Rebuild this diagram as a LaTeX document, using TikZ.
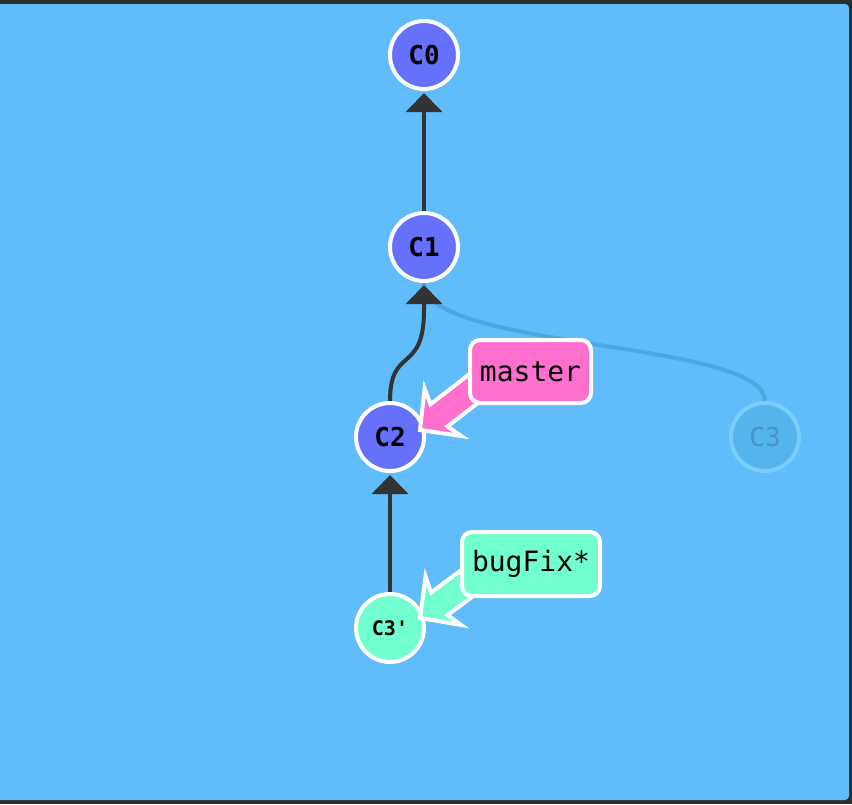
\documentclass[tikz,border=0pt]{standalone}
\usepackage{fontspec}
\setmonofont{DejaVu Sans Mono}
\usetikzlibrary{arrows.meta,calc}
\definecolor{bgblue}{RGB}{96,188,250}
\definecolor{framec}{RGB}{45,45,45}
\definecolor{commitfill}{RGB}{101,113,250}
\definecolor{edgec}{RGB}{51,51,51}
\definecolor{pinkc}{RGB}{255,111,206}
\definecolor{mintc}{RGB}{113,255,207}
\definecolor{fadeline}{RGB}{80,166,222}
\definecolor{fadefill}{RGB}{86,180,236}
\definecolor{fadedraw}{RGB}{122,204,250}
\definecolor{fadetext}{RGB}{72,150,200}
\pgfdeclarelayer{back}
\pgfdeclarelayer{edges}
\pgfsetlayers{back,edges,main}
\newcommand\branchptr[3]{% start, tip, colour
  \coordinate (#1b) at ($(#2)!24pt!(#1)$);
  \coordinate (#1c) at ($(#2)!29pt!(#1)$);
  \filldraw[fill=#3, draw=white, line width=4pt, line join=miter]
    ($(#1)!14pt!90:(#2)$) -- ($(#1b)!14pt!-90:(#1)$) -- ($(#1c)!30pt!-90:(#1)$)
    -- (#2) -- ($(#1c)!30pt!90:(#1)$) -- ($(#1b)!14pt!90:(#1)$)
    -- ($(#1)!14pt!-90:(#2)$) -- cycle;}
\begin{document}
\begin{tikzpicture}[x=1pt,y=-1pt,
  commitnode/.style={circle, minimum size=68pt, inner sep=0pt, draw=white, line width=4pt,
    fill=commitfill, text=black, font=\ttfamily\bfseries\fontsize{26}{26}\selectfont},
  fadednode/.style={circle, minimum size=68pt, inner sep=0pt, draw=fadedraw, line width=4pt,
    fill=fadefill, text=fadetext, font=\ttfamily\fontsize{26}{26}\selectfont},
  branchbox/.style={rounded corners=10pt, draw=white, line width=4pt, inner sep=0pt,
    text=black, font=\ttfamily\fontsize{28}{28}\selectfont},
  edgeline/.style={draw=edgec, line width=4pt, shorten >=2pt,
    -{Triangle[length=19pt,width=36pt]}},
  fadeedge/.style={draw=fadeline, line width=4pt}]
\useasboundingbox (0,0) rectangle (852,804);
\begin{pgfonlayer}{back}
  \fill[framec] (0,0) rectangle (852,804);
  \fill[bgblue, rounded corners=4pt] (-6,4) rectangle (849,800);
\end{pgfonlayer}
% commits
\node[commitnode] (C0) at (424,55) {C0};
\node[commitnode] (C1) at (424,247) {C1};
\node[commitnode] (C2) at (390,437) {C2};
\node[fadednode] (C3) at (765,437) {C3};
\node[commitnode, fill=mintc, font=\ttfamily\bfseries\fontsize{20}{20}\selectfont] (C3p) at (390,628) {C3'};
% edges
\begin{pgfonlayer}{edges}
  \draw[fadeedge] (C3.north) .. controls (765,340) and (424,350) .. (C1.south);
  \draw[edgeline] (C1.north) -- (C0.south);
  \draw[edgeline] (C2.north) .. controls (390,345) and (424,375) .. (424,310) -- (C1.south);
  \draw[edgeline] (C3p.north) -- (C2.south);
\end{pgfonlayer}
% branch pointers
\coordinate (mstart) at (499,369);
\coordinate (mtip) at (420,430);
\coordinate (bstart) at (500,559);
\coordinate (btip) at (420,618);
\branchptr{mstart}{mtip}{pinkc}
\branchptr{bstart}{btip}{mintc}
\node[branchbox, fill=pinkc, minimum width=121pt, minimum height=63pt] (master) at (530.5,371.5) {master};
\node[branchbox, fill=mintc, minimum width=138pt, minimum height=64pt] (bugFix) at (531,564) {bugFix*};
\end{tikzpicture}
\end{document}
